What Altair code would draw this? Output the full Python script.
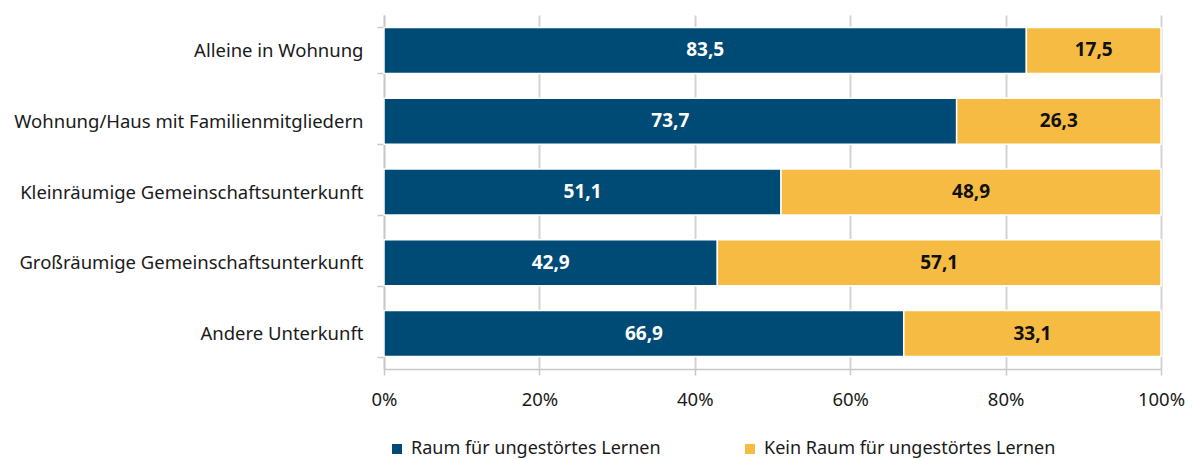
import altair as alt
import pandas as pd

categories = ["Alleine in Wohnung", "Wohnung/Haus mit Familienmitgliedern",
              "Kleinräumige Gemeinschaftsunterkunft", "Großräumige Gemeinschaftsunterkunft",
              "Andere Unterkunft"]
series = ["Raum für ungestörtes Lernen", "Kein Raum für ungestörtes Lernen"]
raum = [83.5, 73.7, 51.1, 42.9, 66.9]
kein_raum = [17.5, 26.3, 48.9, 57.1, 33.1]
colors = ["#004B76", "#F6BB42"]

rows = []
for i, c in enumerate(categories):
    rows.append({"cat": c, "series": series[0], "value": raum[i], "ord": 0})
    rows.append({"cat": c, "series": series[1], "value": kein_raum[i], "ord": 1})
df = pd.DataFrame(rows)

FONT = "Noto Sans"
FS = 18.5

base = alt.Chart(df)

y = alt.Y("cat:N", sort=categories, title=None,
          scale=alt.Scale(paddingInner=0.35, paddingOuter=0.175),
          axis=alt.Axis(labelFontSize=FS, labelFont=FONT, labelColor="#1a1a1a",
                        labelPadding=14, labelLimit=0, tickBand="extent", tickSize=7,
                        tickColor="#c8c8c8", domainColor="#c8c8c8",
                        tickWidth=1.5, domainWidth=1.5, grid=False))

bars = base.mark_bar(stroke="white", strokeWidth=1.5).encode(
    x=alt.X("value:Q", stack="normalize", title=None,
            scale=alt.Scale(domain=[0, 1], nice=False),
            axis=alt.Axis(format=".0%", values=[0, 0.2, 0.4, 0.6, 0.8, 1.0],
                          labelFontSize=FS, labelFont=FONT, labelColor="#1a1a1a",
                          labelPadding=15, labelFlush=False, tickSize=6, tickColor="#c8c8c8",
                          domainColor="#c8c8c8", grid=True, gridColor="#d4d4d4",
                          gridWidth=2, tickWidth=1.5, domainWidth=1.5)),
    y=y,
    color=alt.Color("series:N", sort=series,
                    scale=alt.Scale(domain=series, range=colors),
                    legend=alt.Legend(title=None, orient="none", direction="horizontal",
                                      legendX=4, legendY=425, symbolType="square",
                                      symbolSize=100, labelFontSize=18, labelFont=FONT,
                                      labelColor="#1a1a1a", columnPadding=80,
                                      symbolStrokeWidth=0, labelOffset=5, labelLimit=0)),
    order=alt.Order("ord:Q"),
)

text = base.transform_joinaggregate(
    total="sum(value)", groupby=["cat"]
).transform_calculate(
    frac="datum.value / datum.total"
).transform_window(
    cum="sum(frac)", sort=[alt.SortField("ord")], groupby=["cat"]
).transform_calculate(
    mid="datum.cum - datum.frac / 2",
    label="replace(format(datum.value, '.1f'), '.', ',')"
).mark_text(fontSize=19, fontWeight="bold", font=FONT).encode(
    x=alt.X("mid:Q"),
    y=alt.Y("cat:N", sort=categories),
    text="label:N",
    color=alt.Color("series:N", scale=alt.Scale(domain=series, range=["white", "#111111"]),
                    legend=None),
)

chart = alt.layer(bars, text).resolve_scale(color="independent").properties(
    width=777, height=354,
    autosize=alt.AutoSizeParams(type="none"),
    padding={"left": 376, "top": 7, "right": 25, "bottom": 100},
).configure_view(stroke=None)

chart.save("out.html", embed_options={"renderer": "svg", "actions": False})
